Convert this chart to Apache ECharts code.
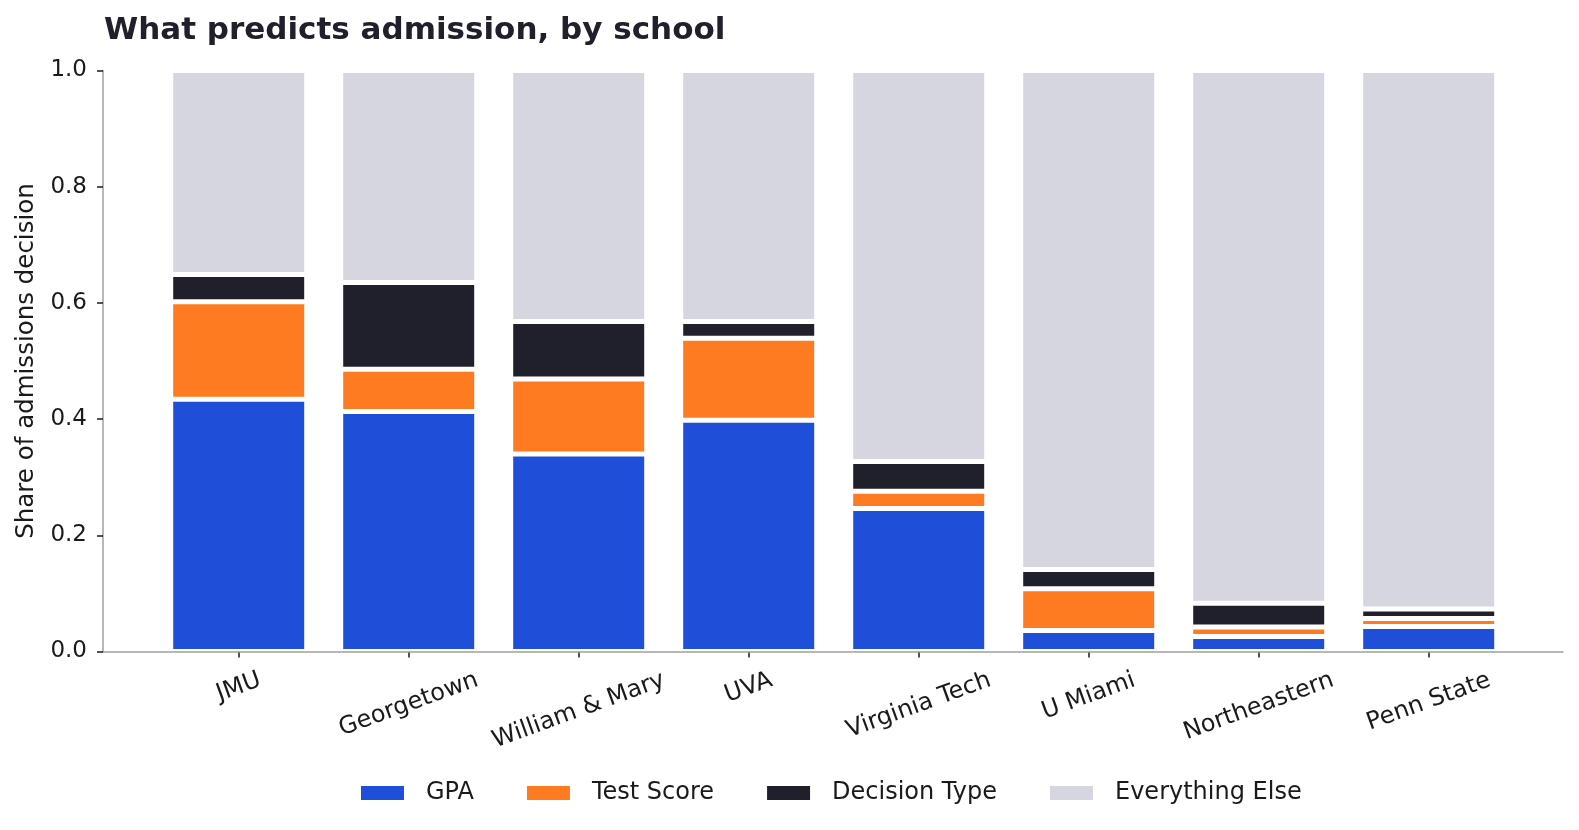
<!DOCTYPE html>
<html>
<head>
<meta charset="utf-8">
<title>What predicts admission, by school</title>
<script src="https://cdn.jsdelivr.net/npm/echarts@6/dist/echarts.min.js"></script>
<style>
  html, body { margin: 0; padding: 0; background: #fff; }
  #chart { width: 1579px; height: 830px; }
</style>
</head>
<body>
<div id="chart"></div>
<script>
// values (share of admissions decision)
const schools = ['JMU', 'Georgetown', 'William & Mary', 'UVA', 'Virginia Tech', 'U Miami', 'Northeastern', 'Penn State']
const gpa = [0.434, 0.413, 0.340, 0.398, 0.246, 0.036, 0.026, 0.043]
const testScore = [0.168, 0.073, 0.129, 0.141, 0.030, 0.072, 0.016, 0.014]
const decisionType = [0.047, 0.149, 0.099, 0.029, 0.051, 0.033, 0.041, 0.016]
const everythingElse = [0.351, 0.365, 0.432, 0.432, 0.673, 0.859, 0.917, 0.927]
const yTicks = [0, 0.2, 0.4, 0.6, 0.8, 1.0]

const FONT = '"DejaVu Sans", "Noto Sans", sans-serif'
const INK = '#1a1a1a'
const SPINE = '#a0a0a0'
const colors = { gpa: '#1f4fd8', test: '#fe7b21', decision: '#20202d', rest: '#d6d6e0' }

// matplotlib-style centred rotated tick labels: push each label down by its own width
const ROT = 20 * Math.PI / 180
const XFS = 24
const ctx = document.createElement('canvas').getContext('2d')
ctx.font = XFS + 'px "DejaVu Sans"'
const rich = {}
schools.forEach((s, i) => {
    const w = ctx.measureText(s).width
    const t = w * Math.sin(ROT) * Math.cos(ROT)
    rich['s' + i] = {
        fontFamily: FONT, fontSize: XFS, color: INK,
        padding: [t, t * Math.tan(ROT), 0, 0]
    }
})

const chart = echarts.init(document.getElementById('chart'), null, { renderer: 'canvas' })

const barSeries = (name, data, color) => ({
    name: name,
    type: 'bar',
    stack: 'total',
    xAxisIndex: 0,
    yAxisIndex: 0,
    barWidth: 136,
    data: data,
    itemStyle: { color: color, borderColor: '#fff', borderWidth: 2.5 },
    emphasis: { disabled: true }
})

const option = {
    animation: false,
    backgroundColor: '#fff',
    textStyle: { fontFamily: FONT },
    title: {
        text: 'What predicts admission, by school',
        left: 104,
        top: 15,
        padding: 0,
        textStyle: { fontFamily: FONT, fontWeight: 'bold', fontSize: 31, color: '#20202d' }
    },
    legend: {
        left: 359,
        top: 781,
        padding: 0,
        itemWidth: 45,
        itemHeight: 16,
        itemGap: 51,
        icon: 'rect',
        data: ['GPA', 'Test Score', 'Decision Type', 'Everything Else'],
        textStyle: { fontFamily: FONT, fontSize: 24, color: INK, padding: [0, 0, 0, 16] }
    },
    grid: [
        // bars: band of 170px per school, centred like matplotlib's margins
        { left: 153.7, right: 65.3, top: 70.5, bottom: 178.5 },
        // frame: spines and y axis across the full plot width
        { left: 103, right: 16, top: 70.5, bottom: 178.5 }
    ],
    xAxis: [
        {
            type: 'category',
            gridIndex: 0,
            data: schools,
            axisLine: { show: false },
            axisTick: { show: true, alignWithLabel: true, length: 6, lineStyle: { color: INK, width: 1.5 } },
            axisLabel: {
                rotate: 20,
                align: 'center',
                verticalAlign: 'middle',
                margin: 28,
                interval: 0,
                formatter: (v, i) => '{s' + i + '|' + v + '}',
                rich: rich
            },
            splitLine: { show: false }
        },
        {
            type: 'value',
            gridIndex: 1,
            min: 0,
            max: 1,
            z: 10,
            axisLine: { show: true, onZero: false, lineStyle: { color: SPINE, width: 1.5 } },
            axisTick: { show: false },
            axisLabel: { show: false },
            splitLine: { show: false }
        }
    ],
    yAxis: [
        {
            type: 'value',
            gridIndex: 0,
            min: 0,
            max: 1,
            show: false
        },
        {
            type: 'value',
            gridIndex: 1,
            min: yTicks[0],
            max: yTicks[yTicks.length - 1],
            interval: 0.2,
            z: 10,
            name: 'Share of admissions decision',
            nameLocation: 'middle',
            nameGap: 62,
            nameTextStyle: { fontFamily: FONT, fontSize: 24.5, color: INK },
            axisLine: { show: true, onZero: false, lineStyle: { color: SPINE, width: 1.5 } },
            axisTick: { show: true, length: 6, lineStyle: { color: INK, width: 1.5 } },
            axisLabel: {
                margin: 16,
                fontFamily: FONT,
                fontSize: 23,
                color: INK,
                formatter: v => v.toFixed(1)
            },
            splitLine: { show: false }
        }
    ],
    series: [
        barSeries('GPA', gpa, colors.gpa),
        barSeries('Test Score', testScore, colors.test),
        barSeries('Decision Type', decisionType, colors.decision),
        barSeries('Everything Else', everythingElse, colors.rest)
    ]
}

chart.setOption(option)
</script>
</body>
</html>
